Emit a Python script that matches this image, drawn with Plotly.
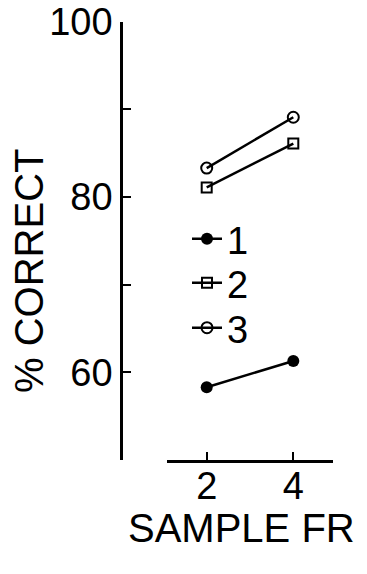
import plotly.graph_objects as go

sample_fr = [2, 4]
series_names = ["1", "2", "3"]
series1 = [58.3, 61.3]
series2 = [81.1, 86.1]
series3 = [83.3, 89.1]
y_tickvals = [50, 60, 70, 80, 90, 100]
y_ticktext = ["", "60", "", "80", "", "100"]
x_tickvals = [2, 4]

# page body has a default 8px margin; size the figure to fit inside it
OFF = 8
W, H = 367 - 2 * OFF, 574 - 2 * OFF
FONT = "Liberation Sans, Arial, Helvetica, sans-serif"

fig = go.Figure()
styles = [
    dict(symbol="circle", size=12, color="black", line=dict(color="black", width=0)),
    dict(symbol="square-open", size=10, color="black", line=dict(color="black", width=2)),
    dict(symbol="circle-open", size=11, color="black", line=dict(color="black", width=2)),
]
legends = ["legend", "legend2", "legend3"]
for name, vals, st, lg in zip(series_names, [series1, series2, series3], styles, legends):
    fig.add_trace(go.Scatter(
        x=sample_fr, y=vals, mode="lines+markers", name=name,
        line=dict(color="black", width=2.5),
        marker=st, legend=lg, cliponaxis=False,
    ))

def px_x(p):
    return (p - OFF) / W

def px_y(p):
    return 1 - (p - OFF) / H

leg_common = dict(bgcolor="rgba(0,0,0,0)", borderwidth=0,
                  font=dict(family=FONT, size=38, color="black"),
                  xanchor="left", yanchor="middle", x=px_x(187))
fig.update_layout(
    width=W, height=H,
    margin=dict(l=0, r=0, t=0, b=0, autoexpand=False),
    paper_bgcolor="white", plot_bgcolor="white",
    showlegend=True,
    legend=dict(**leg_common, y=px_y(239)),
    legend2=dict(**leg_common, y=px_y(283)),
    legend3=dict(**leg_common, y=px_y(328)),
    xaxis=dict(
        domain=[px_x(166.7), px_x(333.3)],
        range=[1.076, 4.924],
        tickvals=x_tickvals, ticktext=[str(v) for v in x_tickvals],
        ticks="inside", ticklen=8, tickwidth=2, tickcolor="black",
        showline=True, linecolor="black", linewidth=2.5,
        showgrid=False, zeroline=False, automargin=False,
        ticklabelstandoff=-9,
        tickfont=dict(family=FONT, size=38, color="black"),
        anchor="y",
    ),
    yaxis=dict(
        domain=[px_y(460), px_y(21.7)],
        range=[50, 100],
        tickvals=y_tickvals, ticktext=y_ticktext,
        ticks="inside", ticklen=8, tickwidth=2, tickcolor="black",
        showline=True, linecolor="black", linewidth=2.5,
        showgrid=False, zeroline=False, automargin=False,
        ticklabeloverflow="allow",
        tickfont=dict(family=FONT, size=38, color="black"),
        anchor="free", position=px_x(121),
    ),
    annotations=[
        dict(text="SAMPLE FR", xref="paper", yref="paper",
             x=px_x(241), y=px_y(528), xanchor="center", yanchor="middle",
             showarrow=False, font=dict(family=FONT, size=40, color="black")),
        dict(text="% CORRECT", xref="paper", yref="paper", textangle=-90,
             x=px_x(29), y=px_y(271), xanchor="center", yanchor="middle",
             showarrow=False, font=dict(family=FONT, size=40, color="black")),
    ],
)

fig.write_html("out.html")
